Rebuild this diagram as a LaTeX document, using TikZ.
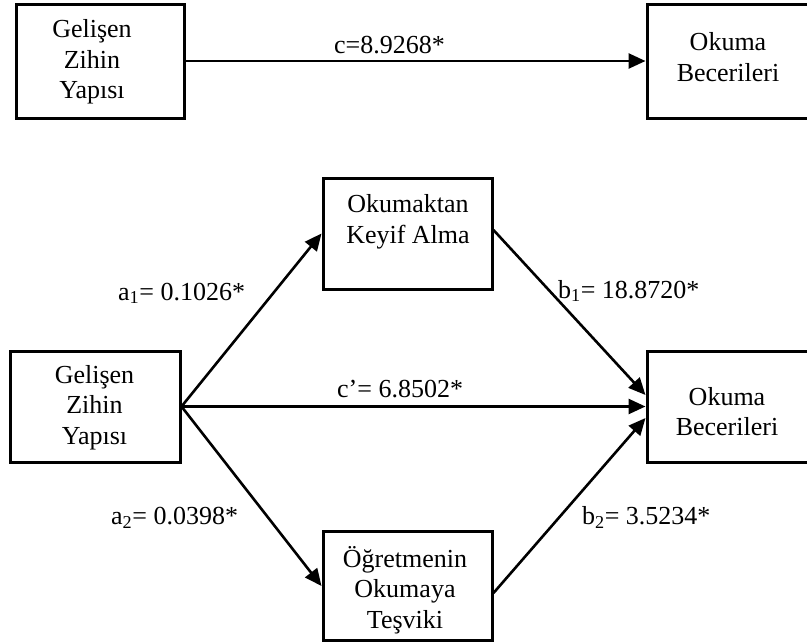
\documentclass[tikz,border=0pt]{standalone}
\usepackage{fontspec}
\setmainfont{Liberation Serif}
\usetikzlibrary{arrows.meta}

\begin{document}
\begin{tikzpicture}[x=1pt, y=-1pt,
    box/.style={draw, line width=3pt, inner sep=0pt},
    txt/.style={align=center, inner sep=0pt, font=\fontsize{26}{30.5}\selectfont},
    lbl/.style={anchor=base west, inner sep=0pt, font=\fontsize{26}{30.5}\selectfont},
    arr/.style={line width=2.6pt, -{Triangle[length=17pt,width=15pt]}}]

  \useasboundingbox (0,0) rectangle (807,643);

  % total effect
  \node[box, minimum width=168pt, minimum height=114pt] (gzy1) at (100,61) {};
  \node[box, minimum width=162pt, minimum height=114pt] (ob1) at (728,61) {};
  \node[txt] (gzy1t) at (92,62) {Gelişen\\Zihin\\Yapısı};
  \node[txt] (ob1t) at (728,57) {Okuma\\Becerileri};

  \draw[arr] (gzy1.east) -- (ob1.west);
  \node[lbl] (c) at (334,53) {c=8.9268*};

  % mediation model
  \node[box, minimum width=170pt, minimum height=111pt] (gzy2) at (95,406.5) {};
  \node[box, minimum width=169pt, minimum height=111pt] (oka) at (407.5,233.5) {};
  \node[box, minimum width=169pt, minimum height=109pt] (ogr) at (407.5,586) {};
  \node[box, minimum width=162pt, minimum height=111pt] (ob2) at (728,406.5) {};

  \node[txt] (gzy2t) at (94.5,407.5) {Gelişen\\Zihin\\Yapısı};
  \node[txt] (okat) at (408,222) {Okumaktan\\Keyif Alma};
  \node[txt] (ogrt) at (405,590) {Öğretmenin\\Okumaya\\Teşviki};
  \node[txt] (ob2t) at (727,411.5) {Okuma\\Becerileri};

  \draw[arr] (gzy2.east) -- (oka.west);
  \draw[arr] (gzy2.east) -- (ob2.west);
  \draw[arr] (gzy2.east) -- (ogr.west);
  \draw[arr] ([yshift=3.5pt]oka.east) -- ([yshift=11.5pt]ob2.west);
  \draw[arr] ([yshift=-7pt]ogr.east) -- ([yshift=-11.5pt]ob2.west);

  \node[lbl] (a1) at (118,300) {a\textsubscript{1}= 0.1026*};
  \node[lbl] (b1) at (558,298) {b\textsubscript{1}= 18.8720*};
  \node[lbl] (cp) at (337,397) {c’= 6.8502*};
  \node[lbl] (a2) at (111,524.5) {a\textsubscript{2}= 0.0398*};
  \node[lbl] (b2) at (582,524.5) {b\textsubscript{2}= 3.5234*};

\end{tikzpicture}
\end{document}
